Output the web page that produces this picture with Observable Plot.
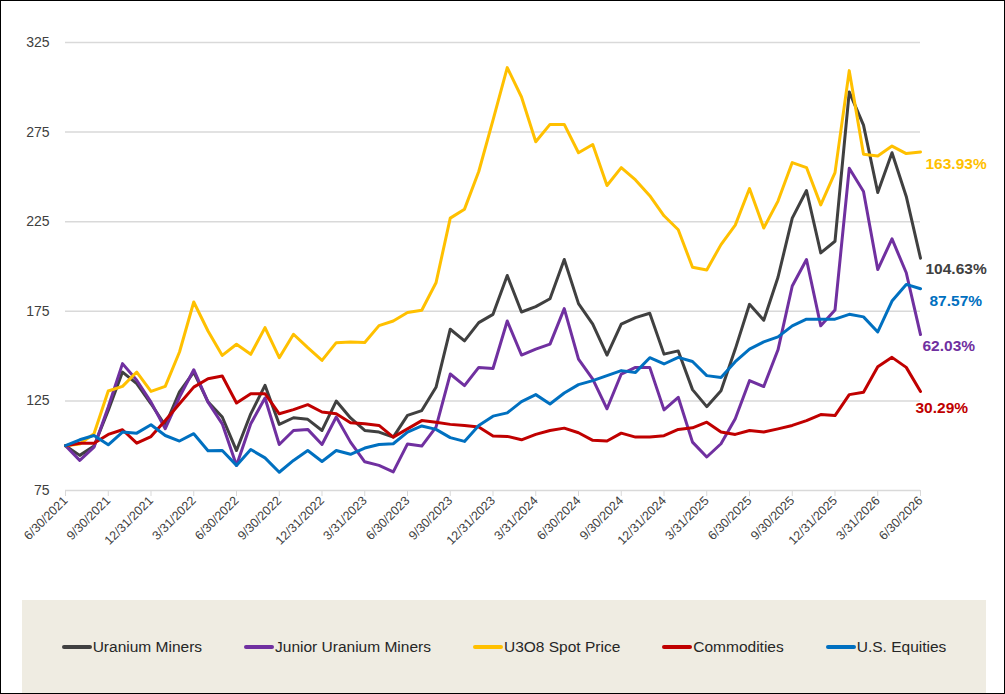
<!DOCTYPE html>
<html><head><meta charset="utf-8">
<script src="https://cdn.jsdelivr.net/npm/d3@7"></script>
<script src="https://cdn.jsdelivr.net/npm/@observablehq/plot@0.6"></script>
<style>
body{margin:0;background:#fff;font-family:"Liberation Sans",Arial,sans-serif;}
#frame{position:relative;width:1003px;height:692px;border:1px solid #000;overflow:hidden;background:#fff;}
#chart{position:absolute;left:0;top:0;}
#legend{position:absolute;left:21px;top:599px;width:964px;height:93px;background:#EFECE2;display:flex;justify-content:center;align-items:center;gap:42px;font-size:15.5px;color:#262626;}
.item{display:flex;align-items:center;white-space:nowrap;}
.sw{width:30px;height:4px;border-radius:2px;margin-right:1px;}
</style></head>
<body>
<div id="frame"><div id="chart"></div><div id="legend"></div></div>
<script>
const tickLabels = ["6/30/2021","9/30/2021","12/31/2021","3/31/2022","6/30/2022","9/30/2022","12/31/2022","3/31/2023","6/30/2023","9/30/2023","12/31/2023","3/31/2024","6/30/2024","9/30/2024","12/31/2024","3/31/2025","6/30/2025","9/30/2025","12/31/2025","3/31/2026","6/30/2026"];
const yTicks = [75,125,175,225,275,325];

const uraniumMiners = [100,94.6,99.8,119.7,141.1,134.6,123.4,111.3,130,141.1,124.5,116,97.3,117.8,133.7,111.9,115.6,114.7,108.5,124.9,115.5,108.5,107.6,104.8,116.9,119.6,132.6,165,158.5,168.7,173.3,195,174.6,177.6,182,203.9,179.3,167.8,150.6,167.8,171.5,173.9,151.1,152.9,131.3,121.8,130.7,153.9,178.9,170,194,227,242.4,207.6,214.1,297.4,278.9,241.3,263.5,239.1,204.63];
const juniorMiners = [100,91.8,99.2,121.6,145.8,136.5,124.3,109.5,127.1,142.4,124.3,112.2,89,112.2,126.6,100.7,108.5,109.1,100.7,116,102,91,89,85.4,101,99.8,110.4,140,133.5,143.7,143.1,169.6,150.6,153.9,156.7,176.5,148.3,137.2,120.6,140,143.7,143.7,120,127,102,93.7,101.1,115,136.3,133,153.5,189.1,203.9,166.9,175.7,254.8,241.9,198.3,215.4,196.5,162.03];
const u3o8Spot = [100,101,106.7,130.5,133.1,141.1,130.3,133.1,152.3,180.2,164,150.4,156.6,151,165.9,149.1,162.2,154.7,147.6,157.5,157.8,157.6,167,169.6,174.3,175.6,190.9,227,232,253,281.7,311,294.6,269.6,279.3,279.3,263.5,268.1,245.2,255.2,248.3,239.5,228.3,220.5,199.6,198.1,212.2,223.1,243.5,221.5,236.5,258,255.2,234.4,252.4,309.3,262.6,261.7,267.2,263,263.93];
const commodities = [100,101.4,101.4,106.3,108.9,101.4,105.1,114.1,123.4,132.7,137.4,138.9,123.8,129,129,117.8,120.1,122.9,118.8,117.8,112.8,112.2,111.3,104.8,109.4,114,113.1,111.9,111.3,110.4,105.4,105.2,103.3,106.3,108.5,109.8,107.2,103,102.6,107,104.8,104.8,105.6,109.1,110,113.1,107.6,106.3,108.5,107.6,109.4,111.3,114,117.4,116.8,128.5,129.8,144,149.3,143.7,130.29];
const usEquities = [100,103.3,105.7,100.5,107.6,107,111.7,105.7,102.6,106.7,97.2,97.3,89,97.9,93.2,85.2,91.8,97.3,91.2,97.3,95.2,98.7,100.7,101.1,107.6,111,109.1,104.5,102.4,111.3,116.5,118.3,124.6,128.5,123.3,129.4,134.1,136.3,139.1,141.9,140.9,149.1,145.6,149.3,147,139.1,138.1,146.9,153.9,157.9,160.7,166.9,170.6,170.6,170.6,173.3,171.9,163.5,180.7,190,187.57];

const seriesNames = ["Uranium Miners","Junior Uranium Miners","U3O8 Spot Price","Commodities","U.S. Equities"];
const seriesColors = ["#404040","#7030A0","#FFC000","#C00000","#0070C0"];
const seriesValues = [uraniumMiners, juniorMiners, u3o8Spot, commodities, usEquities];

// label offsets (styling)
const labelOffsets = [[5,11],[2,11],[5,12],[-5,17],[9,12]];

const last = 60;
const tickIdx = d3.range(0, last + 1, 3);

const marks = [
  Plot.gridY(yTicks.filter(t => t > 75), {stroke:"#D9D9D9", strokeOpacity:1, strokeWidth:1.5}),
  Plot.ruleY([75], {stroke:"#D9D9D9", strokeWidth:1.5}),
  Plot.axisX({ticks: tickIdx, tickFormat: i => tickLabels[i/3], tickRotate:-45, tickSize:6, tickPadding:2, stroke:"#D9D9D9", fill:"#404040", fontSize:12.5}),
  Plot.axisY({ticks: yTicks, tickSize:0, tickPadding:16, fill:"#404040", fontSize:14})
];
seriesValues.forEach((vals, k) => {
  marks.push(Plot.line(vals, {x:(d,i)=>i, y:d=>d, stroke:seriesColors[k], strokeWidth:3, strokeLinejoin:"round"}));
});
seriesValues.forEach((vals, k) => {
  marks.push(Plot.text([vals[last]], {x:()=>last, y:d=>d, text:d=>(d-100).toFixed(2)+"%", textAnchor:"start", dx:labelOffsets[k][0], dy:labelOffsets[k][1], fill:seriesColors[k], fontWeight:"bold", fontSize:15.5}));
});

const chart = Plot.plot({
  width:1003, height:590,
  marginLeft:64, marginRight:84, marginTop:41, marginBottom:101,
  style:{fontFamily:"'Liberation Sans', Arial, sans-serif", background:"transparent", overflow:"visible"},
  x:{domain:[0,last], axis:null},
  y:{domain:[75,325], axis:null},
  marks
});
document.getElementById("chart").appendChild(chart);

const legend = document.getElementById("legend");
seriesNames.forEach((n,k) => {
  const it = document.createElement("div"); it.className = "item";
  const sw = document.createElement("span"); sw.className = "sw"; sw.style.background = seriesColors[k];
  const tx = document.createElement("span"); tx.textContent = n;
  it.appendChild(sw); it.appendChild(tx); legend.appendChild(it);
});
</script>
</body></html>
